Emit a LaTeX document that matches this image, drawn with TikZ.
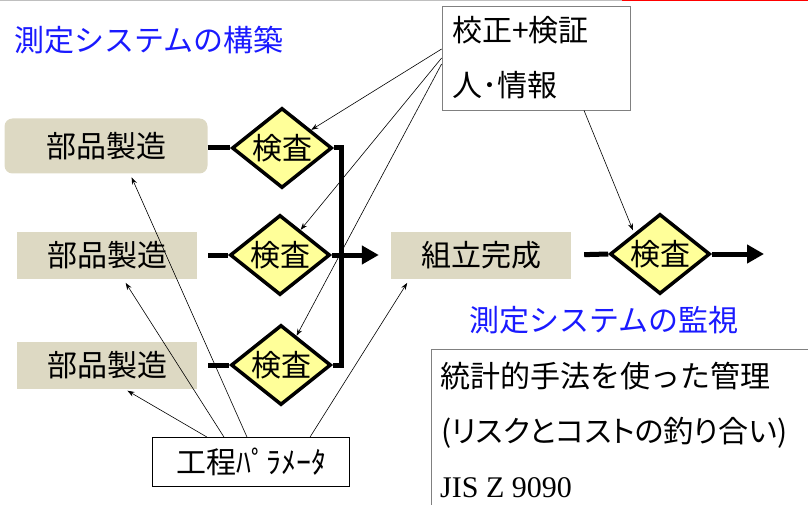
\documentclass[tikz,border=0pt]{standalone}
\usepackage{fontspec}
\setmainfont{Noto Sans CJK JP}
\newfontfamily\jpprop[RawFeature=+palt]{Noto Sans CJK JP}
\newfontfamily\tms{Liberation Serif}
\usetikzlibrary{shapes.geometric,arrows.meta}
\definecolor{partfill}{HTML}{DDD9C3}
\definecolor{checkfill}{HTML}{FFFF99}
\definecolor{titleblue}{HTML}{1A1AFF}

\begin{document}
\begin{tikzpicture}[x=1pt, y=-1pt,
    every node/.style={font=\fontsize{30}{36}\selectfont},
    part/.style={fill=partfill, minimum width=180pt, minimum height=47pt, inner sep=0pt},
    check/.style={diamond, draw, line width=3.5pt, fill=checkfill, minimum width=100pt, minimum height=80pt, aspect=1.25, inner sep=0pt},
    flow/.style={line width=5pt},
    flowarrow/.style={line width=5pt, -{Triangle[length=17pt,width=18pt]}},
    hint/.style={line width=0.6pt, -{Stealth[length=7pt,width=5pt]}},
    frame/.style={draw=gray, line width=0.8pt}]
  \useasboundingbox (0,0) rectangle (808,505);
  \draw[gray!50, line width=1.5pt] (0,0.75) -- (622,0.75);
  \draw[red, line width=1.5pt] (622,0.75) -- (808,0.75);
  \node[anchor=west, text=titleblue, inner sep=0pt] (build) at (14,40) {測定システムの構築};
  \node[part, minimum width=203pt, minimum height=55pt, rounded corners=8pt] (part1) at (106,146) {部品製造};
  \node[part] (part2) at (107,255) {部品製造};
  \node[part] (part3) at (107,365) {部品製造};
  \node[check] (check1) at (282,148) {検査};
  \node[check] (check2) at (280,255) {検査};
  \node[check] (check3) at (281,365) {検査};
  \node[part] (assembly) at (481,255) {組立完成};
  \node[check] (check4) at (660,254) {検査};
  \coordinate (ship) at (764,254);
  \coordinate (bus) at (341,255);
  \node[frame, fill=white, minimum width=188pt, minimum height=104pt, text width=168pt, align=left, font=\fontsize{30}{55}\selectfont] (calib) at (536,58) {校正+検証\\人･情報};
  \node[frame, draw=black, minimum width=197pt, minimum height=49pt, inner sep=0pt] (params) at (251,462) {工程ﾊﾟﾗﾒｰﾀ};
  \node[anchor=west, text=titleblue, inner sep=0pt] (monitor) at (469,320) {測定システムの監視};
  \draw[frame] (808,349) -| (431,505);
  \node[anchor=west, inner sep=0pt] (stat) at (440,376) {統計的手法を使った管理};
  \node[anchor=west, inner sep=0pt, font=\jpprop\fontsize{30}{36}\selectfont] (risk) at (441,433) {(リスクとコストの釣り合い)};
  \node[anchor=west, inner sep=0pt, font=\tms\fontsize{30}{36}\selectfont] (jis) at (440,488) {JIS Z 9090};
  \draw[flow] (part1.east |- check1) -- (check1.west);
  \draw[flow, shorten <=11pt] (part2.east) -- (check2.west);
  \draw[flow, shorten <=11pt] (part3.east) -- (check3.west);
  \draw[flow, line join=miter] (check1.east) -| (bus) |- (check3.east);
  \draw[flowarrow, shorten >=12pt] (check2.east) -- (assembly.west);
  \draw[flow, shorten <=13pt] (assembly.east) -- (check4.west);
  \draw[flowarrow] (check4.east) -- (ship);
  \draw[hint] ([yshift=9pt]calib.west) -- (check1);
  \draw[hint] (calib.west) -- (check2);
  \draw[hint] ([yshift=-6pt]calib.west) -- (check3);
  \draw[hint, shorten >=3pt] ([xshift=48pt]calib.south) -- (check4.north west);
  \draw[hint, shorten >=4pt] ([xshift=-44pt]params.north) -- ([xshift=17pt]part3.south);
  \draw[hint, shorten >=5pt] ([xshift=-27pt]params.north) -- ([xshift=16pt]part2.south);
  \draw[hint, shorten >=4pt] ([xshift=-4pt]params.north) -- ([xshift=24pt]part1.south);
  \draw[hint, shorten >=5pt] ([xshift=59pt]params.north) -- ([xshift=19pt]assembly.south west);
\end{tikzpicture}
\end{document}
